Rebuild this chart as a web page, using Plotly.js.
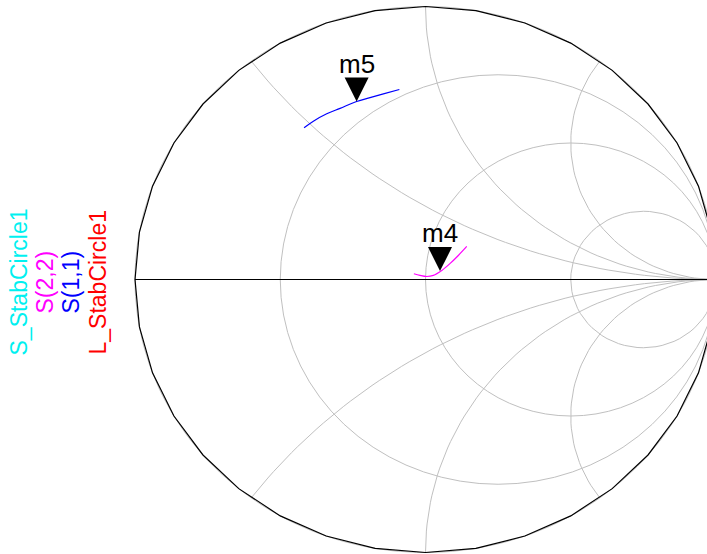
<!DOCTYPE html>
<html>
<head>
<meta charset="utf-8">
<script src="https://cdn.plot.ly/plotly-3.0.1.min.js"></script>
<style>
  html, body { margin: 0; padding: 0; background: #ffffff; }
  #chart { width: 707px; height: 554px; }
</style>
</head>
<body>
<div id="chart"></div>
<script>
// ---- data (reflection coefficient plane: real / imaginary parts) ----
const s11Re = [-0.418, -0.386, -0.340, -0.294, -0.237, -0.191, -0.145, -0.090];
const s11Im = [0.556, 0.580, 0.607, 0.627, 0.652, 0.666, 0.680, 0.696];
const s22Re = [-0.040, -0.019, 0.004, 0.027, 0.056, 0.084, 0.113, 0.142];
const s22Im = [0.021, 0.015, 0.011, 0.015, 0.033, 0.058, 0.088, 0.121];

const markerNames = ["m5", "m4"];
const markerRe = [-0.237, 0.050];
const markerIm = [0.652, 0.031];

const legendNames = ["S_StabCircle1", "S(2,2)", "S(1,1)", "L_StabCircle1"];
const legendColors = ["#00f0f0", "#ff00ff", "#0000ff", "#ff0000"];

// Smith chart grid values
const resistanceVals = [1/3, 1, 3];
const reactanceVals = [0.5, 1, 2, -0.5, -1, -2];

// ---- grid construction ----
const traces = [];
const gridColor = "#c0c0c0";

function circlePts(cx, cy, r, a0, a1, n) {
  const xs = [], ys = [];
  for (let i = 0; i <= n; i++) {
    const a = a0 + (a1 - a0) * i / n;
    xs.push(cx + r * Math.cos(a));
    ys.push(cy + r * Math.sin(a));
  }
  return [xs, ys];
}

// outer unit circle (grey, smooth)
{
  const [xs, ys] = circlePts(0, 0, 1, 0, 2 * Math.PI, 200);
  traces.push({x: xs, y: ys, mode: "lines", line: {color: gridColor, width: 1}, hoverinfo: "skip", showlegend: false});
}
// resistance circles
resistanceVals.forEach(r => {
  const [xs, ys] = circlePts(r / (r + 1), 0, 1 / (r + 1), 0, 2 * Math.PI, 72);
  traces.push({x: xs, y: ys, mode: "lines", line: {color: gridColor, width: 1}, hoverinfo: "skip", showlegend: false});
});
// reactance arcs (inside unit circle)
reactanceVals.forEach(xv => {
  const cx = 1, cy = 1 / xv, rad = Math.abs(1 / xv);
  const ex = (xv * xv - 1) / (xv * xv + 1), ey = 2 * xv / (xv * xv + 1);
  const aStart = Math.atan2(ey - cy, ex - cx);
  const aEnd = Math.atan2(0 - cy, 1 - cx);
  let d = aEnd - aStart;
  if (xv > 0) { while (d < 0) d += 2 * Math.PI; } else { while (d > 0) d -= 2 * Math.PI; }
  const [xs, ys] = circlePts(cx, cy, rad, aStart, aStart + d, 60);
  traces.push({x: xs, y: ys, mode: "lines", line: {color: gridColor, width: 1}, hoverinfo: "skip", showlegend: false});
});
// black outer boundary (polygonal like the original)
{
  const [xs, ys] = circlePts(0, 0, 1, 0, 2 * Math.PI, 36);
  traces.push({x: xs, y: ys, mode: "lines", line: {color: "#000000", width: 1.2}, hoverinfo: "skip", showlegend: false});
}
// real axis
traces.push({x: [-1, 1], y: [0, 0], mode: "lines", line: {color: "#000000", width: 1}, hoverinfo: "skip", showlegend: false});

// ---- data traces ----
traces.push({x: s22Re, y: s22Im, mode: "lines", name: "S(2,2)", line: {color: "#ff00ff", width: 1.2, shape: "spline"}, showlegend: false});
traces.push({x: s11Re, y: s11Im, mode: "lines", name: "S(1,1)", line: {color: "#0000ff", width: 1.2, shape: "spline"}, showlegend: false});

// ---- geometry of the page ----
const W = 707, H = 554;
const cxPix = 425.5, cyPix = 279.5, rxPix = 290.5, ryPix = 273;
const xRange = [-cxPix / rxPix, (W - cxPix) / rxPix];
const yRange = [-(H - cyPix) / ryPix, cyPix / ryPix];

const annotations = [];
// markers: triangle head + label
markerNames.forEach((nm, i) => {
  annotations.push({
    x: markerRe[i], y: markerIm[i], xref: "x", yref: "y",
    text: "", showarrow: true, ax: 0, ay: -24,
    arrowhead: 2, arrowwidth: 0.5, arrowsize: 9.6, arrowcolor: "#000000", standoff: 0
  });
  annotations.push({
    x: markerRe[i], y: markerIm[i], xref: "x", yref: "y",
    text: nm, showarrow: false, xanchor: "center", yanchor: "bottom", yshift: 21,
    font: {family: "Liberation Sans, Arial, sans-serif", size: 26, color: "#000000"}
  });
});
// rotated legend labels
const legendX = [18.5, 44.5, 70.5, 97.5];
legendNames.forEach((nm, i) => {
  annotations.push({
    x: legendX[i] / W, y: 1 - 282 / H, xref: "paper", yref: "paper",
    text: nm, showarrow: false, textangle: -90, xanchor: "center", yanchor: "middle",
    font: {family: "Liberation Sans, Arial, sans-serif", size: 23, color: legendColors[i]}
  });
});

const layout = {
  width: W, height: H,
  margin: {l: 0, r: 0, t: 0, b: 0, pad: 0},
  paper_bgcolor: "#ffffff", plot_bgcolor: "#ffffff",
  showlegend: false,
  xaxis: {range: xRange, visible: false, showgrid: false, zeroline: false, fixedrange: true},
  yaxis: {range: yRange, visible: false, showgrid: false, zeroline: false, fixedrange: true},
  annotations: annotations
};

Plotly.newPlot("chart", traces, layout, {displayModeBar: false, staticPlot: true});
</script>
</body>
</html>
